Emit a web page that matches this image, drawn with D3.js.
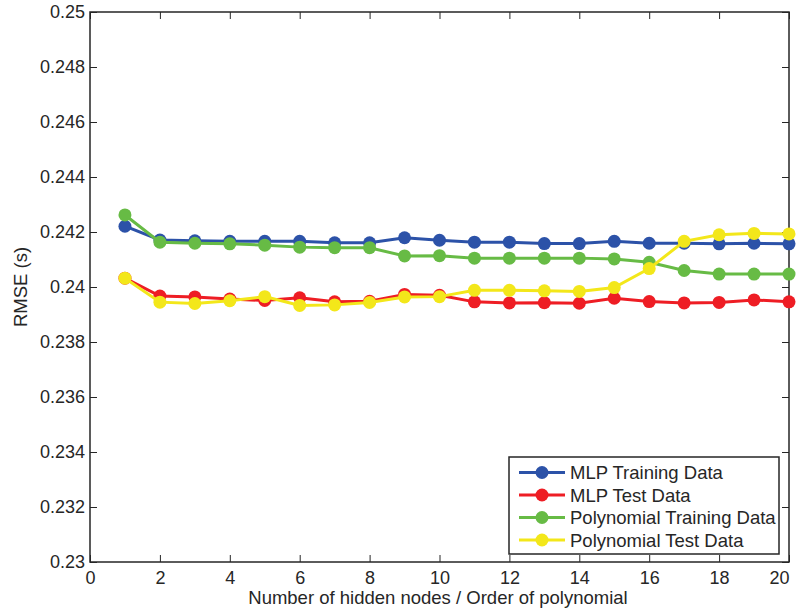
<!DOCTYPE html>
<html>
<head>
<meta charset="utf-8">
<script src="https://cdn.jsdelivr.net/npm/d3@7"></script>
<style>
  body { margin: 0; background: #fff; }
  text { font-family: "Liberation Sans", Arial, sans-serif; fill: #262626; }
</style>
</head>
<body>
<div id="chart"></div>
<script>
// x values: hidden nodes / polynomial order
const xs = [1, 2, 3, 4, 5, 6, 7, 8, 9, 10, 11, 12, 13, 14, 15, 16, 17, 18, 19, 20]

const mlpTrain = [0.24221, 0.24171, 0.24168, 0.24166, 0.24166, 0.24166, 0.24161, 0.24161, 0.24179, 0.24170,
                  0.24163, 0.24163, 0.24158, 0.24158, 0.24166, 0.24159, 0.24159, 0.24157, 0.24159, 0.24157]
const mlpTest = [0.24032, 0.23967, 0.23964, 0.23956, 0.23951, 0.23961, 0.23946, 0.23948, 0.23973, 0.23970,
                 0.23946, 0.23942, 0.23943, 0.23941, 0.23959, 0.23947, 0.23942, 0.23944, 0.23953, 0.23946]
const polyTrain = [0.24262, 0.24163, 0.24159, 0.24157, 0.24152, 0.24145, 0.24143, 0.24143, 0.24113, 0.24114,
                   0.24105, 0.24105, 0.24105, 0.24105, 0.24102, 0.24090, 0.24060, 0.24047, 0.24047, 0.24047]
const polyTest = [0.24032, 0.23945, 0.23940, 0.23950, 0.23965, 0.23933, 0.23935, 0.23944, 0.23964, 0.23965,
                  0.23988, 0.23988, 0.23986, 0.23984, 0.23998, 0.24067, 0.24166, 0.24190, 0.24195, 0.24193]

const seriesNames = ['MLP Training Data', 'MLP Test Data', 'Polynomial Training Data', 'Polynomial Test Data']
const seriesColors = ['#2c52a8', '#ee1d24', '#67bb45', '#f3e71a']
const xTicks = [0, 2, 4, 6, 8, 10, 12, 14, 16, 18, 20]
const yTicks = [0.23, 0.232, 0.234, 0.236, 0.238, 0.24, 0.242, 0.244, 0.246, 0.248, 0.25]

const allSeries = [mlpTrain, mlpTest, polyTrain, polyTest]

const W = 801, H = 614
const margin = {top: 12, right: 12, bottom: 52, left: 90}
const width = W - margin.left - margin.right
const height = H - margin.top - margin.bottom

const svg = d3.select('#chart').append('svg')
  .attr('width', W).attr('height', H)

const g = svg.append('g')
  .attr('transform', `translate(${margin.left},${margin.top})`)

const x = d3.scaleLinear().domain([0, 20]).range([0, width])
const y = d3.scaleLinear().domain([0.23, 0.25]).range([height, 0])

// box
g.append('rect')
  .attr('width', width).attr('height', height)
  .attr('fill', 'none').attr('stroke', '#262626').attr('stroke-width', 1.5)

const fmt = d => String(+d.toFixed(3))

// axes with inward ticks, mirrored on top/right
const xAxis = g.append('g').attr('transform', `translate(0,${height})`)
  .call(d3.axisBottom(x).tickValues(xTicks).tickSize(-7).tickPadding(9).tickFormat(d3.format('d')))
g.append('g')
  .call(d3.axisTop(x).tickValues(xTicks).tickSize(-7).tickFormat(''))
g.append('g')
  .call(d3.axisLeft(y).tickValues(yTicks).tickSize(-7).tickPadding(5).tickFormat(fmt))
g.append('g').attr('transform', `translate(${width},0)`)
  .call(d3.axisRight(y).tickValues(yTicks).tickSize(-7).tickFormat(''))

g.selectAll('.domain').remove()
g.selectAll('.tick line').attr('stroke', '#262626')
g.selectAll('.tick text').style('font-size', '18px').attr('fill', '#262626')
// last x label is pulled inside the figure, as in the original
xAxis.selectAll('.tick text').filter(d => d === 20).attr('text-anchor', 'end')

// lines
const line = d3.line().x((d, i) => x(xs[i])).y(d => y(d))

allSeries.forEach((s, k) => {
  g.append('path')
    .datum(s)
    .attr('fill', 'none')
    .attr('stroke', seriesColors[k])
    .attr('stroke-width', 3)
    .attr('d', line)
  g.selectAll('.dot' + k)
    .data(s)
    .join('circle')
    .attr('cx', (d, i) => x(xs[i]))
    .attr('cy', d => y(d))
    .attr('r', 6.5)
    .attr('fill', seriesColors[k])
})

// axis titles
svg.append('text')
  .attr('x', 438).attr('y', 604)
  .attr('text-anchor', 'middle')
  .style('font-size', '18.5px')
  .text('Number of hidden nodes / Order of polynomial')

svg.append('text')
  .attr('transform', `translate(27,${margin.top + height / 2}) rotate(-90)`)
  .attr('text-anchor', 'middle')
  .style('font-size', '18.5px')
  .text('RMSE (s)')

// legend
const lg = svg.append('g').attr('transform', 'translate(509,457)')
lg.append('rect')
  .attr('width', 270).attr('height', 97)
  .attr('fill', '#fff').attr('stroke', '#262626').attr('stroke-width', 1.5)

seriesNames.forEach((name, k) => {
  const yy = 15.5 + k * 22.5
  lg.append('line')
    .attr('x1', 10).attr('x2', 56).attr('y1', yy).attr('y2', yy)
    .attr('stroke', seriesColors[k]).attr('stroke-width', 3)
  lg.append('circle')
    .attr('cx', 33).attr('cy', yy).attr('r', 6.5)
    .attr('fill', seriesColors[k])
  lg.append('text')
    .attr('x', 61).attr('y', yy + 6.5)
    .style('font-size', '18.5px')
    .text(name)
})
</script>
</body>
</html>
